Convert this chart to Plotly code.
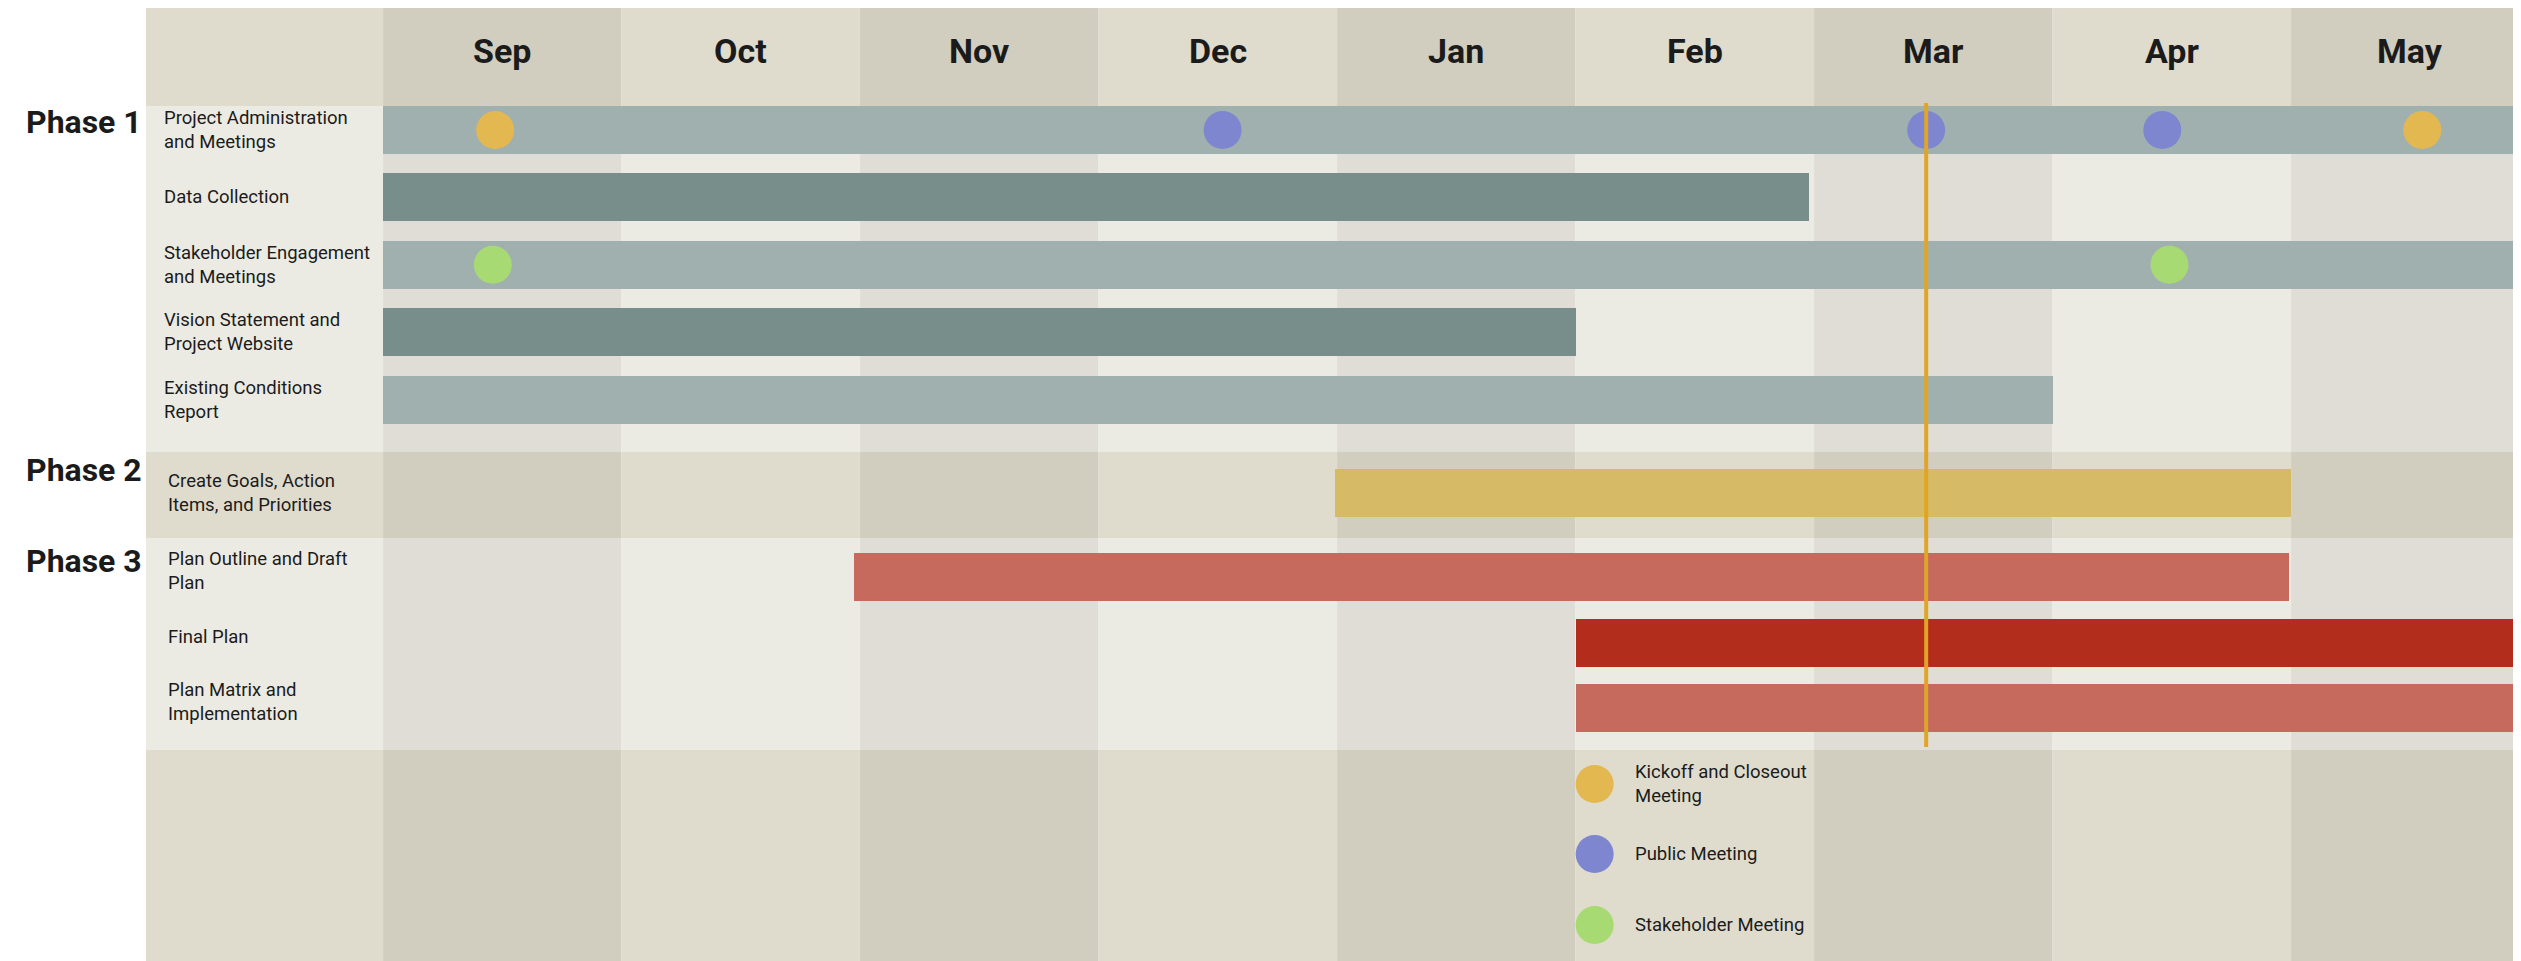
import plotly.graph_objects as go

# ---------------- data ----------------
MONTHS = ["Sep", "Oct", "Nov", "Dec", "Jan", "Feb", "Mar", "Apr", "May"]

TASKS = [
    "Project Administration<br>and Meetings",
    "Data Collection",
    "Stakeholder Engagement<br>and Meetings",
    "Vision Statement and<br>Project Website",
    "Existing Conditions<br>Report",
    "Create Goals, Action<br>Items, and Priorities",
    "Plan Outline and Draft<br>Plan",
    "Final Plan",
    "Plan Matrix and<br>Implementation",
]
PHASE = [1, 1, 1, 1, 1, 2, 3, 3, 3]
# start / end in months since the start of September
START = [0, 0, 0, 0, 0, 3.99, 1.975, 5, 5]
END = [9, 5.98, 9, 5, 7, 8, 7.99, 9, 9]

MS_TASK = [0, 0, 0, 0, 0, 2, 2]
MS_MONTH = [0.47, 3.52, 6.47, 7.46, 8.55, 0.46, 7.49]
MS_TYPE = ["Kickoff and Closeout Meeting", "Public Meeting", "Public Meeting",
           "Public Meeting", "Kickoff and Closeout Meeting",
           "Stakeholder Meeting", "Stakeholder Meeting"]
LEGEND_ITEMS = ["Kickoff and Closeout Meeting", "Public Meeting", "Stakeholder Meeting"]
LEGEND_TEXT = ["Kickoff and Closeout<br>Meeting", "Public Meeting", "Stakeholder Meeting"]

TODAY = 6.47

# ---------------- styles / layout ----------------
PAGE_OFF = 8                      # default body margin of the html page
W, H = 2521 - PAGE_OFF, 961 - PAGE_OFF
LEFT = 146 - PAGE_OFF
XR = [-0.994, 8.964]
YR = [961, PAGE_OFF]              # y expressed in page pixels (top = small)
BAR_COLORS = ["#A0B0AF", "#778E8A", "#A0B0AF", "#778E8A", "#A0B0AF",
              "#D7BA65", "#C66A5E", "#B22D1B", "#C66A5E"]
MS_COLORS = {"Kickoff and Closeout Meeting": "#E3B851",
             "Public Meeting": "#7F86D0",
             "Stakeholder Meeting": "#A8DA74"}
TXT = "#1B1B1B"
FONT = "Roboto"
BAR_H = 48

SECTIONS = [  # (top, bottom, kind)
    (5, 106, "dark"),
    (106, 452, "light"),
    (452, 538, "dark"),
    (538, 750, "light"),
    (750, 961, "dark"),
]
PALETTE = {"dark": ("#DFDCCE", "#D1CEBF"), "light": ("#ECEBE3", "#E0DDD6")}
PHASE_GEOM = {1: (106, 0, 67.4), 2: (452, 17, 0), 3: (538, 15, 65.5)}  # top, offset, pitch
PHASE_LABEL_Y = {1: 122, 2: 470, 3: 561}
LABEL_X = {1: -0.927, 2: -0.909, 3: -0.909}
LABEL_SHIFT = {1: 0, 2: 0, 3: 6}

# compute row centres
row_y = []
counter = {}
for p in PHASE:
    k = counter.get(p, 0)
    top, off, pitch = PHASE_GEOM[p]
    row_y.append(top + off + k * pitch + BAR_H / 2)
    counter[p] = k + 1

fig = go.Figure()

shapes = []
for top, bot, kind in SECTIONS:
    for c in range(-1, 9):
        col = PALETTE[kind][1] if (c >= 0 and c % 2 == 0) else PALETTE[kind][0]
        shapes.append(dict(type="rect", xref="x", yref="y", x0=max(c, XR[0]), x1=c + 1,
                           y0=max(top, PAGE_OFF), y1=bot, fillcolor=col,
                           line=dict(width=0), layer="below"))

# bars
fig.add_trace(go.Bar(
    orientation="h",
    base=START,
    x=[e - s for s, e in zip(START, END)],
    y=row_y,
    width=BAR_H,
    marker=dict(color=BAR_COLORS, line=dict(width=0)),
    hoverinfo="skip",
    showlegend=False,
))

# today line
shapes.append(dict(type="line", xref="x", yref="y", x0=TODAY, x1=TODAY, y0=103, y1=747,
                   line=dict(color="#E0A526", width=4), layer="above"))

# milestones
fig.add_trace(go.Scatter(
    x=MS_MONTH,
    y=[row_y[t] for t in MS_TASK],
    mode="markers",
    marker=dict(size=38, color=[MS_COLORS[t] for t in MS_TYPE], line=dict(width=0)),
    hoverinfo="skip", showlegend=False,
))

# custom legend
LEG_X = 5.08
LEG_Y = [784, 854, 925]
fig.add_trace(go.Scatter(
    x=[LEG_X] * len(LEGEND_ITEMS), y=LEG_Y, mode="markers",
    marker=dict(size=38, color=[MS_COLORS[t] for t in LEGEND_ITEMS], line=dict(width=0)),
    hoverinfo="skip", showlegend=False,
))

ann = []
for i, m in enumerate(MONTHS):
    ann.append(dict(x=i + 0.5, y=51, xref="x", yref="y", text=m, showarrow=False,
                    font=dict(family=FONT, size=34, color=TXT, weight="bold")))
for t, p, y in zip(TASKS, PHASE, row_y):
    ann.append(dict(x=LABEL_X[p], y=y, xref="x", yref="y", text=t, showarrow=False,
                    xanchor="left", yanchor="middle", align="left", yshift=LABEL_SHIFT[p],
                    font=dict(family=FONT, size=18.5, color=TXT)))
for p, yv in PHASE_LABEL_Y.items():
    ann.append(dict(x=0, y=yv, xref="paper", yref="y", text=f"Phase {p}", showarrow=False,
                    xanchor="right", yanchor="middle", xshift=-2,
                    font=dict(family=FONT, size=32, color=TXT, weight="bold")))
for txt, yv in zip(LEGEND_TEXT, LEG_Y):
    ann.append(dict(x=LEG_X, y=yv, xref="x", yref="y", text=txt, showarrow=False,
                    xanchor="left", yanchor="middle", align="left", xshift=38,
                    font=dict(family=FONT, size=18.5, color=TXT)))

fig.update_layout(
    width=W, height=H,
    margin=dict(l=LEFT, r=0, t=0, b=0),
    paper_bgcolor="white", plot_bgcolor="white",
    shapes=shapes, annotations=ann,
    bargap=0,
    xaxis=dict(range=XR, visible=False, fixedrange=True),
    yaxis=dict(range=YR, visible=False, fixedrange=True),
    showlegend=False,
)

fig.write_html("out.html", config={"displayModeBar": False})
